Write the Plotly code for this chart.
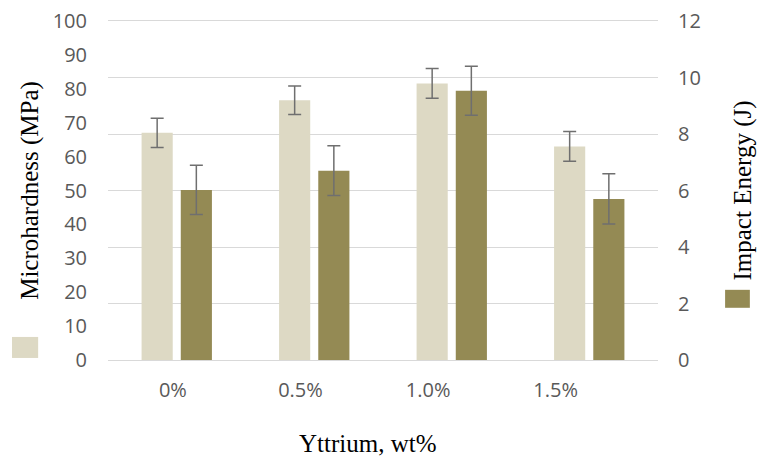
import plotly.graph_objects as go

categories = ["0%", "0.5%", "1.0%", "1.5%"]
microhardness = [67, 76.6, 81.6, 63.0]
microhardness_err = [4.3, 4.2, 4.4, 4.4]
impact_energy = [6.02, 6.70, 9.53, 5.70]
impact_energy_err = [0.87, 0.88, 0.87, 0.89]
left_ticks = list(range(0, 101, 10))
right_ticks = list(range(0, 13, 2))

LIGHT = "#DDD9C4"
DARK = "#948A54"
ERR = "#6f6f6f"
GRID = "#D9D9D9"
TICK_FONT = dict(family="Open Sans", size=20, color="#595959")
TITLE_FONT = dict(family="Liberation Serif", size=25, color="#000000")

fig = go.Figure()
fig.add_trace(go.Bar(
    x=categories, y=microhardness, name="Microhardness (MPa)",
    marker=dict(color=LIGHT, line=dict(width=0)),
    error_y=dict(type="data", array=microhardness_err, color=ERR, thickness=1.5, width=6.5),
    offsetgroup="1", yaxis="y", xaxis="x", showlegend=False,
))
fig.add_trace(go.Bar(
    x=categories, y=impact_energy, name="Impact Energy (J)",
    marker=dict(color=DARK, line=dict(width=0)),
    error_y=dict(type="data", array=impact_energy_err, color=ERR, thickness=1.5, width=6.5),
    offsetgroup="2", yaxis="y2", xaxis="x", showlegend=False,
))
# invisible carrier for the category label axis
fig.add_trace(go.Scatter(
    x=categories, y=microhardness, xaxis="x2", yaxis="y",
    mode="markers", marker=dict(opacity=0), hoverinfo="skip", showlegend=False,
))

fig.update_layout(
    width=759, height=457,
    margin=dict(l=108, r=101, t=21, b=97, autoexpand=False),
    paper_bgcolor="white", plot_bgcolor="rgba(0,0,0,0)",
    barmode="group", bargap=0.43, bargroupgap=0.205,
    xaxis=dict(type="category", domain=[0, 1], showticklabels=False, showgrid=False,
               zeroline=False, showline=True, linecolor=GRID, linewidth=1, mirror=True,
               ticks="", automargin=False),
    xaxis2=dict(type="category", domain=[0.002, 0.93], anchor="y", range=[-0.5, 3.5],
                showgrid=False, zeroline=False, showline=False, ticks="", tickfont=TICK_FONT,
                ticklabelstandoff=16, automargin=False),
    yaxis=dict(range=[0, 100], tickvals=left_ticks, showgrid=False, zeroline=False,
               showline=False, ticks="", tickfont=TICK_FONT, ticklabelstandoff=20,
               automargin=False,
               title=dict(text="Microhardness (MPa)", font=TITLE_FONT, standoff=6)),
    yaxis2=dict(range=[0, 12], tickvals=right_ticks, overlaying="y", side="right",
                showgrid=True, gridcolor=GRID, gridwidth=1, zeroline=False,
                showline=False, ticks="", tickfont=TICK_FONT, ticklabelstandoff=19,
                automargin=False,
                title=dict(text="Impact Energy (J)", font=TITLE_FONT, standoff=33)),
    annotations=[
        dict(text="Yttrium, wt%", xref="paper", yref="paper", x=0.473, y=-0.245,
             xanchor="center", yanchor="middle", showarrow=False,
             font=dict(family="Liberation Serif", size=25, color="#000000")),
    ],
    shapes=[
        dict(type="rect", xref="paper", yref="paper", x0=-0.1745, x1=-0.127, y0=0.006, y1=0.068,
             fillcolor=LIGHT, line=dict(width=0)),
        dict(type="rect", xref="paper", yref="paper", x0=1.122, x1=1.167, y0=0.154, y1=0.207,
             fillcolor=DARK, line=dict(width=0)),
    ],
)

fig.write_html("out.html", config={"displayModeBar": False},
               post_script="document.body.style.margin='0';")
